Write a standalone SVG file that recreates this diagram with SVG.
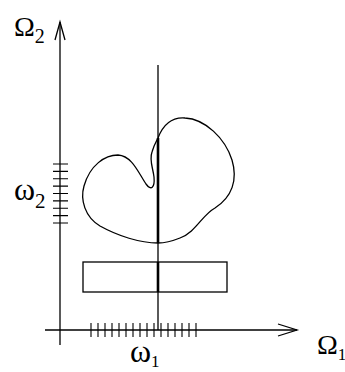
<svg xmlns="http://www.w3.org/2000/svg" width="345" height="372" viewBox="0 0 345 372">
<style>
.ln{stroke:#000;stroke-width:1.3;fill:none}
.thick{stroke:#000;stroke-width:2.6;fill:none}
.tk{stroke:#000;stroke-width:1.1;fill:none}
.t{font-family:"Liberation Serif","Times New Roman",serif;fill:#000}
</style>
<rect width="345" height="372" fill="#fff"/>
<g id="connectors">
<line class="ln" x1="60" y1="22" x2="60" y2="345"/>
<polyline class="ln" points="55,40 60,22 65,40"/>
<line class="ln" x1="45" y1="330" x2="297" y2="330"/>
<polyline class="ln" points="278,324 297,330 278,336"/>
</g>
<g id="ticks2">
<path class="tk" d="M53,164H68M53,171.4H68M53,178.8H68M53,186.1H68M53,193.5H68M53,200.9H68M53,208.3H68M53,215.6H68M53,223H68"/>
</g>
<g id="ticks1">
<path class="tk" d="M91,323V337M98,323V337M105,323V337M112,323V337M119,323V337M126,323V337M133,323V337M140,323V337M147,323V337M154,323V337M161,323V337M168,323V337M175,323V337M182,323V337M189,323V337M196,323V337"/>
</g>
<g id="blob">
<path class="ln" d="M158,138 C163,125 172,117 185,118 C205,119 225,138 232,160 C238,180 232,197 215,208 C202,215 196,232 180,238 C170,242 162,243 158,243 C140,243 118,236 100,226 C85,217 80,200 84,186 C90,165 105,155 118,155 C132,156 138,172 146,184 C151,191 155,188 154,177 C153,168 149,160 152,152 C154,145 156,142 158,138 Z"/>
</g>
<g id="rect">
<rect class="ln" x="83" y="262" width="144" height="30"/>
</g>
<g id="line">
<line class="ln" x1="158" y1="65" x2="158" y2="330"/>
<line class="thick" x1="158" y1="138" x2="158" y2="243"/>
<line class="thick" x1="158" y1="262" x2="158" y2="292"/>
</g>
<g id="labels">
<text class="t" x="14" y="36" font-size="28">Ω<tspan font-size="20" dy="7">2</tspan></text>
<text class="t" x="14" y="200" font-size="32">ω<tspan font-size="21" dy="8">2</tspan></text>
<text class="t" x="130" y="362" font-size="32">ω<tspan font-size="17" dy="5">1</tspan></text>
<text class="t" x="317" y="354" font-size="28">Ω<tspan font-size="17" dy="6">1</tspan></text>
</g>
</svg>
